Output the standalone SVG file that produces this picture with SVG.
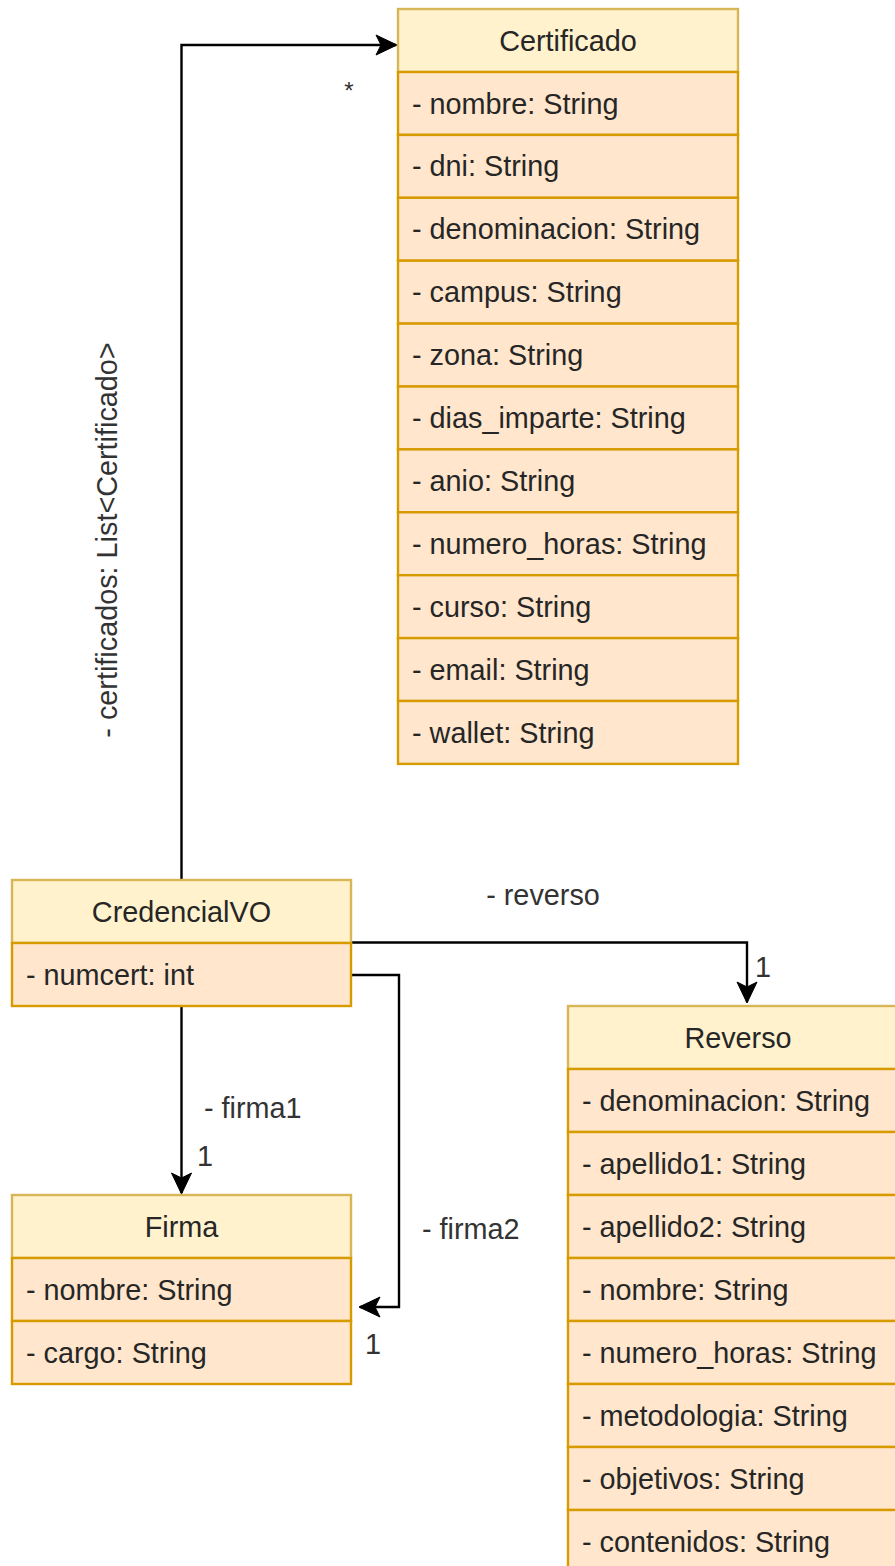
<svg xmlns="http://www.w3.org/2000/svg" width="895" height="1566" viewBox="0 0 895 1566">
  <style>
    .hdr { fill: #fff2cc; stroke: #d6b656; stroke-width: 2.4; }
    .row { fill: #ffe6cc; stroke: #d79b00; stroke-width: 2.4; }
    text { font-family: "Liberation Sans", Arial, Helvetica, sans-serif; font-size: 28.8px; fill: #262626; }
    .title { text-anchor: middle; }
    .lbl { fill: #333; }
    .mid { text-anchor: middle; }
    .edge { fill: none; stroke: #000; stroke-width: 2.4; }
  </style>
  <defs>
    <marker id="arrow" markerUnits="userSpaceOnUse" viewBox="-24 -12 26 24" refX="0" refY="0" markerWidth="26" markerHeight="24" orient="auto">
      <path d="M1,0 L-20,-10 L-15,0 L-20,10 Z" fill="#000" stroke="#000" stroke-width="1" stroke-linejoin="miter"/>
    </marker>
  </defs>
  <rect width="895" height="1566" fill="#fff"/>

  <!-- associations -->
  <g id="connectors">
    <path class="edge" d="M181.5,880 V45 H396" marker-end="url(#arrow)"/>
    <path class="edge" d="M351,942.5 H747 V1002" marker-end="url(#arrow)"/>
    <path class="edge" d="M351,975 H399 V1307 H360" marker-end="url(#arrow)"/>
    <path class="edge" d="M181.5,1006 V1193" marker-end="url(#arrow)"/>
    <text class="lbl mid" x="349" y="99" style="font-size:24px">*</text>
    <text class="lbl mid" transform="translate(117,540) rotate(-90)">- certificados: List&lt;Certificado&gt;</text>
    <text class="lbl mid" x="543" y="905">- reverso</text>
    <text class="lbl mid" x="763" y="977">1</text>
    <text class="lbl" x="422" y="1239">- firma2</text>
    <text class="lbl mid" x="373" y="1354">1</text>
    <text class="lbl" x="204" y="1118">- firma1</text>
    <text class="lbl mid" x="205" y="1166">1</text>
  </g>

  <!-- Certificado -->
  <g id="certificado">
    <rect class="hdr" x="398" y="9" width="340" height="63"/>
    <text class="title" x="568" y="50.5">Certificado</text>
    <rect class="row" x="398" y="72" width="340" height="62.9"/>
    <text x="412" y="113.5">- nombre: String</text>
    <rect class="row" x="398" y="134.9" width="340" height="62.9"/>
    <text x="412" y="176.4">- dni: String</text>
    <rect class="row" x="398" y="197.8" width="340" height="62.9"/>
    <text x="412" y="239.3">- denominacion: String</text>
    <rect class="row" x="398" y="260.7" width="340" height="62.9"/>
    <text x="412" y="302.2">- campus: String</text>
    <rect class="row" x="398" y="323.6" width="340" height="62.9"/>
    <text x="412" y="365.1">- zona: String</text>
    <rect class="row" x="398" y="386.5" width="340" height="62.9"/>
    <text x="412" y="428">- dias_imparte: String</text>
    <rect class="row" x="398" y="449.4" width="340" height="62.9"/>
    <text x="412" y="490.9">- anio: String</text>
    <rect class="row" x="398" y="512.3" width="340" height="62.9"/>
    <text x="412" y="553.8">- numero_horas: String</text>
    <rect class="row" x="398" y="575.2" width="340" height="62.9"/>
    <text x="412" y="616.7">- curso: String</text>
    <rect class="row" x="398" y="638.1" width="340" height="62.9"/>
    <text x="412" y="679.6">- email: String</text>
    <rect class="row" x="398" y="701" width="340" height="62.9"/>
    <text x="412" y="742.5">- wallet: String</text>
  </g>

  <!-- CredencialVO -->
  <g id="credencialvo">
    <rect class="hdr" x="12" y="880" width="339" height="63"/>
    <text class="title" x="181.5" y="922">CredencialVO</text>
    <rect class="row" x="12" y="943" width="339" height="63"/>
    <text x="26" y="985">- numcert: int</text>
  </g>

  <!-- Firma -->
  <g id="firma">
    <rect class="hdr" x="12" y="1195" width="339" height="63"/>
    <text class="title" x="181.5" y="1237">Firma</text>
    <rect class="row" x="12" y="1258" width="339" height="63"/>
    <text x="26" y="1300">- nombre: String</text>
    <rect class="row" x="12" y="1321" width="339" height="63"/>
    <text x="26" y="1363">- cargo: String</text>
  </g>

  <!-- Reverso -->
  <g id="reverso">
    <rect class="hdr" x="568" y="1006" width="340" height="63"/>
    <text class="title" x="738" y="1048">Reverso</text>
    <rect class="row" x="568" y="1069" width="340" height="63"/>
    <text x="582" y="1111">- denominacion: String</text>
    <rect class="row" x="568" y="1132" width="340" height="63"/>
    <text x="582" y="1174">- apellido1: String</text>
    <rect class="row" x="568" y="1195" width="340" height="63"/>
    <text x="582" y="1237">- apellido2: String</text>
    <rect class="row" x="568" y="1258" width="340" height="63"/>
    <text x="582" y="1300">- nombre: String</text>
    <rect class="row" x="568" y="1321" width="340" height="63"/>
    <text x="582" y="1363">- numero_horas: String</text>
    <rect class="row" x="568" y="1384" width="340" height="63"/>
    <text x="582" y="1426">- metodologia: String</text>
    <rect class="row" x="568" y="1447" width="340" height="63"/>
    <text x="582" y="1489">- objetivos: String</text>
    <rect class="row" x="568" y="1510" width="340" height="63"/>
    <text x="582" y="1552">- contenidos: String</text>
  </g>
</svg>
